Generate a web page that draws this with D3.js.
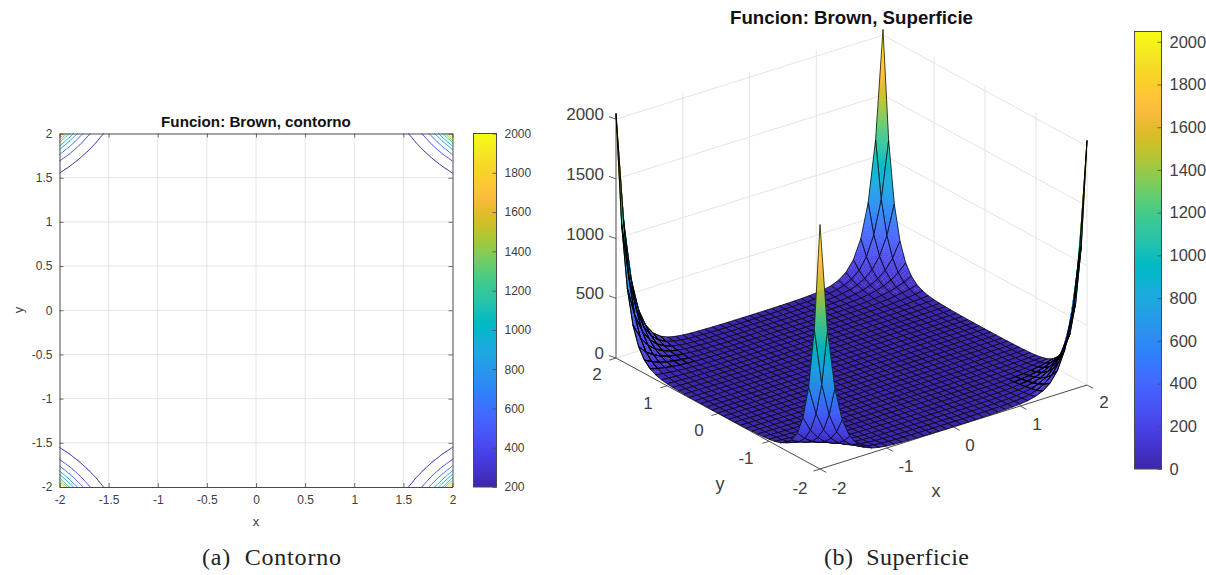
<!DOCTYPE html>
<html><head><meta charset="utf-8">
<script src="https://cdn.jsdelivr.net/npm/d3@7"></script>
<style>
html,body{margin:0;padding:0;background:#fff}
svg{display:block}
text{font-family:"Liberation Sans",Arial,sans-serif;fill:#404040}
.title{font-weight:bold;fill:#111;text-anchor:middle}
.cap{font-family:"Liberation Serif",serif;fill:#222;text-anchor:middle;white-space:pre}
</style></head><body>
<svg id="c" width="1206" height="575"></svg>
<script>
// Contour plot heights for one quadrant, |x| and |y| from 0 to 2 in steps of 0.1 (lower triangle; mirrored)
const contourRows = [
[0],
[.01,.02],
[.04,.05,.08],
[.09,.1,.11,.14],
[.16,.16,.17,.2,.24],
[.25,.25,.26,.27,.3,.36],
[.36,.36,.36,.37,.39,.43,.5],
[.49,.49,.49,.49,.51,.54,.6,.7],
[.64,.64,.64,.63,.65,.67,.73,.82,.96],
[.81,.81,.8,.8,.82,.85,.91,1,1.16,1.36],
[1,1,1,1.01,1.03,1.06,1.13,1.24,1.41,1.66,2],
[1.21,1.21,1.22,1.23,1.27,1.32,1.4,1.54,1.74,2.04,2.46,3.04],
[1.44,1.45,1.46,1.49,1.54,1.61,1.72,1.9,2.16,2.53,3.07,3.83,4.86],
[1.69,1.7,1.73,1.77,1.85,1.95,2.1,2.34,2.67,3.16,3.86,4.86,6.27,8.22],
[1.96,1.97,2.01,2.08,2.18,2.34,2.55,2.85,3.29,3.92,4.84,6.19,8.11,10.8,14.7],
[2.25,2.27,2.32,2.42,2.56,2.77,3.05,3.45,4.01,4.84,6.06,7.86,10.5,14.4,19.9,27.8],
[2.56,2.58,2.66,2.79,2.97,3.25,3.62,4.14,4.87,5.95,7.55,9.95,13.6,19,27.2,39.1,56.8],
[2.89,2.92,3.02,3.18,3.42,3.78,4.26,4.92,5.88,7.26,9.35,12.5,17.4,25.1,36.9,54.9,82.4,124],
[3.24,3.28,3.39,3.6,3.91,4.35,4.96,5.81,7.03,8.81,11.5,15.6,22.3,32.9,49.8,76.8,120,187,292],
[3.61,3.66,3.8,4.05,4.43,4.98,5.74,6.81,8.34,10.6,14,19.5,28.3,42.9,66.9,107,173,281,457,744],
[4,4.06,4.23,4.53,4.99,5.66,6.6,7.9,9.8,12.7,17,24,35.6,55.4,89.4,148,249,421,714,1209,2048]
];
const contourCoords = [-2,-1.9,-1.8,-1.7,-1.6,-1.5,-1.4,-1.3,-1.2,-1.1,-1,-.9,-.8,-.7,-.6,-.5,-.4,-.3,-.2,-.1,0,.1,.2,.3,.4,.5,.6,.7,.8,.9,1,1.1,1.2,1.3,1.4,1.5,1.6,1.7,1.8,1.9,2];
// Surface heights for one quadrant on the coarser mesh of the 3D plot (lower triangle; mirrored)
const surfaceRows = [
[0],
[.01,.02],
[.05,.06,.08],
[.11,.12,.14,.18],
[.2,.2,.21,.23,.28],
[.31,.3,.31,.33,.36,.42],
[.44,.44,.44,.45,.48,.53,.62],
[.6,.6,.6,.6,.62,.67,.75,.89],
[.79,.79,.79,.79,.8,.85,.94,1.1,1.32],
[1,1,1,1.01,1.04,1.1,1.2,1.37,1.62,2],
[1.23,1.24,1.25,1.27,1.32,1.39,1.52,1.73,2.05,2.52,3.2],
[1.49,1.5,1.52,1.56,1.64,1.74,1.91,2.19,2.61,3.23,4.14,5.44],
[1.78,1.79,1.83,1.9,2,2.16,2.41,2.77,3.32,4.16,5.42,7.25,9.88],
[2.09,2.11,2.16,2.26,2.42,2.65,2.97,3.47,4.21,5.35,7.09,9.71,13.6,19.4],
[2.42,2.45,2.53,2.67,2.88,3.2,3.64,4.31,5.31,6.86,9.26,13,18.8,27.7,41.1],
[2.78,2.81,2.92,3.11,3.4,3.82,4.42,5.3,6.64,8.72,12.03,17.33,25.9,39.5,61.1,94.8],
[3.16,3.21,3.35,3.59,3.97,4.52,5.3,6.46,8.23,10.99,15.48,22.9,35.4,56.2,90.7,147,240],
[3.57,3.62,3.8,4.11,4.59,5.29,6.31,7.8,10.09,13.73,19.77,30.1,48.1,79.5,134,228,391,668],
[4,4.07,4.28,4.67,5.26,6.14,7.43,9.33,12.27,17,25,39.1,64.8,111.7,197.5,353,636,1143,2048]
];
const surfaceCoords = [-2,-1.889,-1.778,-1.667,-1.556,-1.444,-1.333,-1.222,-1.111,-1,-.889,-.778,-.667,-.556,-.444,-.333,-.222,-.111,0,.111,.222,.333,.444,.556,.667,.778,.889,1,1.111,1.222,1.333,1.444,1.556,1.667,1.778,1.889,2];
const contourLevels = [200,400,600,800,1000,1200,1400,1600,1800,2000];
const planeTicks = [-2,-1.5,-1,-.5,0,.5,1,1.5,2];
const surfXYTicks = [-2,-1,0,1,2];
const surfZTicks = [0,500,1000,1500,2000];
const cbarLeftTicks = [200,400,600,800,1000,1200,1400,1600,1800,2000];
const cbarRightTicks = [0,200,400,600,800,1000,1200,1400,1600,1800,2000];
const palette = ["#3e26a8","#422ec0","#4537d5","#4741e5","#484df0","#4758f8","#4563fd","#3e6fff","#327bfc","#2d87f7","#2b91ef","#259be8","#20a5e3","#18addb","#08b5d0","#02bac3","#19bfb6","#2cc4a7","#37c897","#4acb84","#64cd6f","#81cc59","#9dc943","#b9c431","#d1bf27","#e6bb2d","#f8ba3d","#fec338","#fccd2e","#f7d625","#f5e326","#f6f01a","#f9fb15"];

const svg = d3.select("#c");
const colorAt = d3.piecewise(d3.interpolateRgb, palette);
const lookup = (rows,mid) => (i,j) => { const a=Math.abs(i-mid), b=Math.abs(j-mid); return a>=b ? rows[a][b] : rows[b][a]; };
const zContour = lookup(contourRows,20), zSurface = lookup(surfaceRows,18);
const NC = contourCoords.length, NS = surfaceCoords.length;
const AX = "#4a4a4a", GRID = "#e4e4e4";

/* ---------- left: contour ---------- */
const lx = d3.scaleLinear([-2,2],[59.5,452.5]);
const ly = d3.scaleLinear([-2,2],[487,133.5]);
const gL = svg.append("g");
gL.append("g").selectAll("line").data(planeTicks.slice(1,-1)).join("line")
  .attr("x1",lx).attr("x2",lx).attr("y1",ly(-2)).attr("y2",ly(2)).attr("stroke",GRID);
gL.append("g").selectAll("line").data(planeTicks.slice(1,-1)).join("line")
  .attr("y1",ly).attr("y2",ly).attr("x1",lx(-2)).attr("x2",lx(2)).attr("stroke",GRID);

const contourScale = d3.scaleSequential([200,2000], colorAt);
const lineGen = d3.line().x(d=>lx(d[0])).y(d=>ly(d[1]));
const segs = [];
contourLevels.forEach(lev=>{
  for(let i=0;i<NC-1;i++) for(let j=0;j<NC-1;j++){
    const c=[[i,j],[i+1,j],[i+1,j+1],[i,j+1]];
    const pts=[];
    for(let k=0;k<4;k++){
      const p=c[k], q=c[(k+1)%4], a=zContour(p[0],p[1]), b=zContour(q[0],q[1]);
      if((a<lev)!==(b<lev)){
        const t=(lev-a)/(b-a);
        pts.push([contourCoords[p[0]]+t*(contourCoords[q[0]]-contourCoords[p[0]]), contourCoords[p[1]]+t*(contourCoords[q[1]]-contourCoords[p[1]])]);
      }
    }
    for(let k=0;k+1<pts.length;k+=2) segs.push({lev,p:[pts[k],pts[k+1]]});
  }
});
gL.append("g").attr("fill","none").selectAll("path").data(segs).join("path")
  .attr("d",d=>lineGen(d.p)).attr("stroke",d=>contourScale(d.lev)).attr("stroke-width",.9).attr("stroke-linecap","round");

function styleAxis(g,size){
  g.selectAll(".domain").attr("stroke",AX).attr("stroke-width",1);
  g.selectAll(".tick line").attr("stroke",AX).attr("stroke-width",.8);
  g.selectAll("text").attr("font-size",size).attr("fill","#404040").attr("font-family",'"Liberation Sans",Arial,sans-serif');
}
const fmt = d=>String(d);
styleAxis(gL.append("g").attr("transform",`translate(0,${ly(-2)})`).call(d3.axisBottom(lx).tickValues(planeTicks).tickFormat(fmt).tickSizeInner(-4).tickSizeOuter(0).tickPadding(8)),12);
styleAxis(gL.append("g").attr("transform",`translate(${lx(-2)},0)`).call(d3.axisLeft(ly).tickValues(planeTicks).tickFormat(fmt).tickSizeInner(-4).tickSizeOuter(0).tickPadding(7)),12);
styleAxis(gL.append("g").attr("transform",`translate(0,${ly(2)})`).call(d3.axisTop(lx).tickValues(planeTicks).tickFormat("").tickSizeInner(-4).tickSizeOuter(0)),12);
styleAxis(gL.append("g").attr("transform",`translate(${lx(2)},0)`).call(d3.axisRight(ly).tickValues(planeTicks).tickFormat("").tickSizeInner(-4).tickSizeOuter(0)),12);
svg.append("text").attr("x",256).attr("y",526).attr("text-anchor","middle").attr("font-size",13).text("x");
svg.append("text").attr("transform","translate(23,310) rotate(-90)").attr("text-anchor","middle").attr("font-size",13).text("y");
svg.append("text").attr("class","title").attr("x",256).attr("y",127).attr("font-size",15.2).text("Funcion: Brown, contorno");

/* ---------- colour bars ---------- */
const defs = svg.append("defs");
const grad = defs.append("linearGradient").attr("id","parula").attr("x1",0).attr("x2",0).attr("y1",1).attr("y2",0);
grad.selectAll("stop").data(palette).join("stop")
  .attr("offset",(d,i)=>i/(palette.length-1)).attr("stop-color",d=>d);
function colorbar(x0,x1,scale,ticks,size,pad){
  const [y0,y1]=scale.range();
  const g=svg.append("g");
  g.append("rect").attr("x",x0).attr("y",y1).attr("width",x1-x0).attr("height",y0-y1).attr("fill","url(#parula)").attr("stroke",AX).attr("stroke-width",1);
  const a=g.append("g").attr("transform",`translate(${x1},0)`).call(d3.axisRight(scale).tickValues(ticks).tickFormat(fmt).tickSizeInner(-4).tickSizeOuter(0).tickPadding(pad));
  styleAxis(a,size); a.select(".domain").remove();
}
colorbar(473.5,496.5,d3.scaleLinear([200,2000],[487,133.5]),cbarLeftTicks,12,8);
colorbar(1134.5,1161.5,d3.scaleLinear([0,2048],[469,31.5]),cbarRightTicks,16.5,8);

/* ---------- right: surface ---------- */
const Front=[820,469], Right=[1087,385], Left=[616,358];
const ux=d3.scaleLinear([-2,2],[0,1]), uy=d3.scaleLinear([-2,2],[0,1]), zPx=d3.scaleLinear([0,2000],[0,238.8]);
const proj=(x,y,z=0)=>{
  const a=ux(x), b=uy(y);
  return [Front[0]+a*(Right[0]-Front[0])+b*(Left[0]-Front[0]),
          Front[1]+a*(Right[1]-Front[1])+b*(Left[1]-Front[1])-zPx(z)];
};
const pathOf = pts => "M"+pts.map(p=>p[0].toFixed(2)+","+p[1].toFixed(2)).join("L")+"Z";
const gS=svg.append("g");
const wallTop=2048;
const drawLine=(a,b,col,w)=>gS.append("line").attr("x1",a[0]).attr("y1",a[1]).attr("x2",b[0]).attr("y2",b[1]).attr("stroke",col).attr("stroke-width",w);
surfXYTicks.forEach(t=>{
  if(t>-2&&t<2){ drawLine(proj(t,2),proj(t,2,wallTop),GRID,1); drawLine(proj(2,t),proj(2,t,wallTop),GRID,1);
    drawLine(proj(t,-2),proj(t,2),GRID,1); drawLine(proj(-2,t),proj(2,t),GRID,1); }
});
drawLine(proj(2,2),proj(2,2,wallTop),GRID,1);
drawLine(proj(2,-2),proj(2,-2,wallTop),GRID,1);
drawLine(proj(-2,2),proj(2,2),GRID,1);
drawLine(proj(2,2),proj(2,-2),GRID,1);
surfZTicks.slice(1).forEach(z=>{ drawLine(proj(-2,2,z),proj(2,2,z),GRID,1); drawLine(proj(2,2,z),proj(2,-2,z),GRID,1); });
drawLine(proj(-2,-2),proj(2,-2),AX,1);
drawLine(proj(-2,-2),proj(-2,2),AX,1);
drawLine(proj(-2,2),proj(-2,2,wallTop-20),AX,1);
const tickLen=7;
const norm=(a,b)=>{const d=[b[0]-a[0],b[1]-a[1]],l=Math.hypot(d[0],d[1]);return [d[0]/l*tickLen,d[1]/l*tickLen];};
const dx=norm(Front,Right), dy=norm(Front,Left);
surfXYTicks.forEach(t=>{
  let p=proj(t,-2); drawLine(p,[p[0]-dy[0],p[1]-dy[1]],AX,.9);
  p=proj(-2,t); drawLine(p,[p[0]-dx[0],p[1]-dx[1]],AX,.9);
});
surfZTicks.forEach(z=>{ const p=proj(-2,2,z); drawLine(p,[p[0]-7,p[1]-2.5],AX,.9); });

const cells=[];
for(let i=0;i<NS-1;i++) for(let j=0;j<NS-1;j++){
  const zz=[zSurface(i,j),zSurface(i+1,j),zSurface(i+1,j+1),zSurface(i,j+1)];
  cells.push({i,j,zz,depth:proj((surfaceCoords[i]+surfaceCoords[i+1])/2,(surfaceCoords[j]+surfaceCoords[j+1])/2)[1]});
}
cells.sort((a,b)=>d3.ascending(a.depth,b.depth));
const surfColor=d3.scaleSequential([0,2048],colorAt);
const surfG=gS.append("g");
const outlineOf=c=>{
  const x0=surfaceCoords[c.i],x1=surfaceCoords[c.i+1],y0=surfaceCoords[c.j],y1=surfaceCoords[c.j+1];
  return pathOf([proj(x0,y0,c.zz[0]),proj(x1,y0,c.zz[1]),proj(x1,y1,c.zz[2]),proj(x0,y1,c.zz[3])]);
};
cells.forEach(c=>{
  const x0=surfaceCoords[c.i],x1=surfaceCoords[c.i+1],y0=surfaceCoords[c.j],y1=surfaceCoords[c.j+1];
  const range=d3.max(c.zz)-d3.min(c.zz);
  const n=Math.min(20,Math.max(1,Math.ceil(range/30)));
  const bil=(u,v)=>{
    const z=(1-u)*(1-v)*c.zz[0]+u*(1-v)*c.zz[1]+u*v*c.zz[2]+(1-u)*v*c.zz[3];
    return {p:proj(x0+u*(x1-x0),y0+v*(y1-y0),z),z};
  };
  const pieces=[];
  for(let a=0;a<n;a++) for(let b=0;b<n;b++){
    const q=[bil(a/n,b/n),bil((a+1)/n,b/n),bil((a+1)/n,(b+1)/n),bil(a/n,(b+1)/n)];
    pieces.push({d:pathOf(q.map(o=>o.p)),col:surfColor(d3.mean(q,o=>o.z))});
  }
  surfG.append("g").selectAll("path").data(pieces).join("path")
    .attr("d",d=>d.d).attr("fill",d=>d.col).attr("stroke",d=>d.col).attr("stroke-width",.25);
  surfG.append("path").attr("d",outlineOf(c)).attr("fill","none").attr("stroke","#000").attr("stroke-width",.7).attr("stroke-linejoin","round");
});
// the side spikes are seen edge-on: their mesh lines lie over the faces
const edgeOn=cells.filter(c=>(c.i<6&&c.j>NS-8)||(c.i>NS-8&&c.j<6));
surfG.append("g").selectAll("path").data(edgeOn).join("path")
  .attr("d",outlineOf).attr("fill","none").attr("stroke","#000").attr("stroke-width",.95).attr("stroke-opacity",.9);

const tx=[[-2,839,494],[-1,906,472],[0,970,451],[1,1037,430],[2,1104,408]];
const ty=[[-2,800,494],[-1,746,464],[0,699,436],[1,648,409],[2,597,380]];
const labelG=svg.append("g").attr("font-size",17).attr("text-anchor","middle");
labelG.selectAll("text.tx").data(tx).join("text").attr("class","tx").attr("x",d=>d[1]).attr("y",d=>d[2]).text(d=>d[0]);
labelG.selectAll("text.ty").data(ty).join("text").attr("class","ty").attr("x",d=>d[1]).attr("y",d=>d[2]).text(d=>d[0]);
labelG.selectAll("text.tz").data(surfZTicks).join("text").attr("class","tz").attr("text-anchor","end")
  .attr("x",604).attr("y",d=>proj(-2,2,d)[1]+1).text(d=>d);
svg.append("text").attr("x",936).attr("y",497).attr("text-anchor","middle").attr("font-size",18).text("x");
svg.append("text").attr("x",720).attr("y",490).attr("text-anchor","middle").attr("font-size",18).text("y");
svg.append("text").attr("class","title").attr("x",851.5).attr("y",24).attr("font-size",18.7).text("Funcion: Brown, Superficie");
svg.append("text").attr("class","cap").attr("x",271.5).attr("y",565).attr("font-size",24).attr("textLength",139).attr("lengthAdjust","spacing").text("(a)  Contorno");
svg.append("text").attr("class","cap").attr("x",896.5).attr("y",565).attr("font-size",24).attr("textLength",145).attr("lengthAdjust","spacing").text("(b)  Superficie");
</script>
</body></html>
